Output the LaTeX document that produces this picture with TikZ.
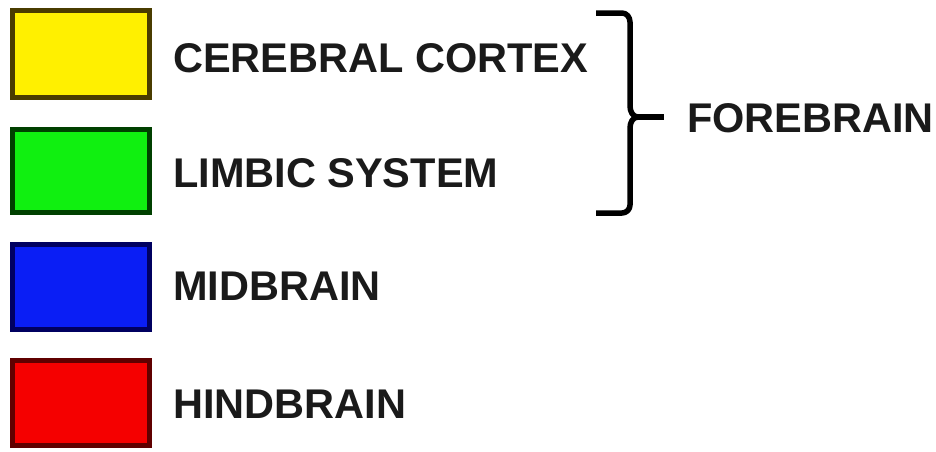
\documentclass[tikz,border=0pt]{standalone}
\usepackage{fontspec}
\setmainfont{Liberation Sans}
\definecolor{cyel}{HTML}{FFF000}
\definecolor{cyelb}{HTML}{4A3C00}
\definecolor{cgrn}{HTML}{10F010}
\definecolor{cgrnb}{HTML}{004000}
\definecolor{cblu}{HTML}{0A1EF5}
\definecolor{cblub}{HTML}{000060}
\definecolor{cred}{HTML}{F50000}
\definecolor{credb}{HTML}{600000}
\definecolor{ctxt}{HTML}{1A1A1A}
\begin{document}
\begin{tikzpicture}[x=1pt,y=-1pt,
  swatch/.style={line width=5pt},
  lbl/.style={anchor=base west,inner sep=0pt,text=ctxt,font=\fontsize{41.5}{45}\selectfont\bfseries},
  bracepath/.style={line width=5.5pt,line cap=butt,line join=round}]
\useasboundingbox[fill=white] (0,0) rectangle (936,451);
\draw[swatch,draw=cyelb,fill=cyel] (12.5,10.5) rectangle (149.5,97.5);
\draw[swatch,draw=cgrnb,fill=cgrn] (12.5,129.5) rectangle (149.5,212.5);
\draw[swatch,draw=cblub,fill=cblu] (12.5,244.5) rectangle (149.5,329.5);
\draw[swatch,draw=credb,fill=cred] (12.5,360.5) rectangle (149.5,445.5);
\node[lbl] (cc) at (173,72) {CEREBRAL CORTEX};
\node[lbl] (ls) at (173,187) {LIMBIC SYSTEM};
\node[lbl] (mb) at (173,300) {MIDBRAIN};
\node[lbl] (hb) at (173,418) {HINDBRAIN};
\node[lbl] (fb) at (687,132) {FOREBRAIN};
\coordinate (tip) at (638,117);
\coordinate (tipend) at (664,117);
\draw[bracepath] (596,13) -- (622,13) to[out=0,in=90] (630,22) -- (630,106)
  to[out=-90,in=180] (tip) to[out=180,in=90] (630,128) -- (630,205)
  to[out=-90,in=0] (622,213) -- (596,213);
\draw[bracepath] (tip) -- (tipend);
\end{tikzpicture}
\end{document}
